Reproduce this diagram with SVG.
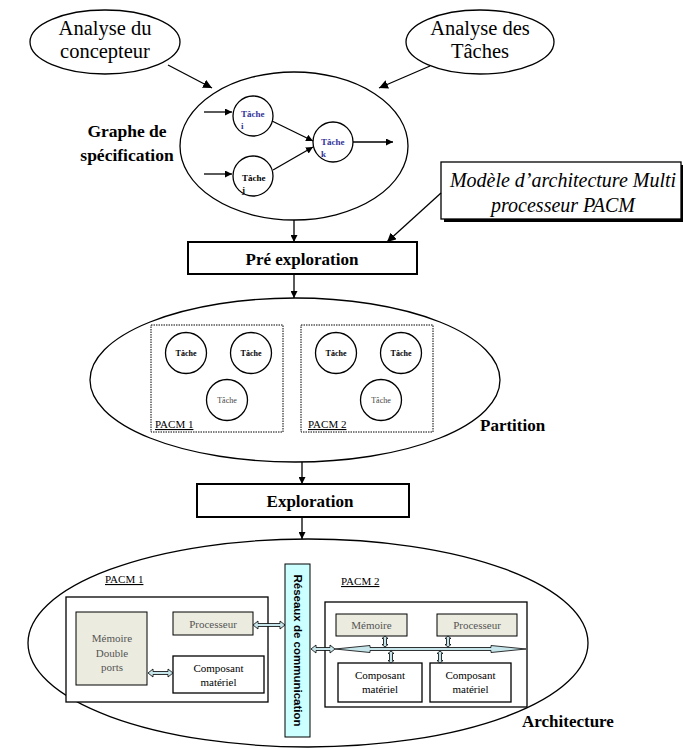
<svg xmlns="http://www.w3.org/2000/svg" width="683" height="749" viewBox="0 0 683 749" font-family="'Liberation Serif', 'Times New Roman', serif">
<defs>
<marker id="ah" viewBox="0 0 10 10" refX="10" refY="5" markerWidth="7" markerHeight="7" orient="auto" markerUnits="userSpaceOnUse">
<path d="M0,0 L10,5 L0,10 z" fill="#000"/>
</marker>
<marker id="ahs" viewBox="0 0 10 10" refX="10" refY="5" markerWidth="9" markerHeight="9" orient="auto" markerUnits="userSpaceOnUse">
<path d="M0,0 L10,5 L0,10 z" fill="#000"/>
</marker>
</defs>
<style>
.ln{fill:none;stroke:#000;stroke-width:1.3}
.el{fill:#fff;stroke:#000;stroke-width:1.3}
.t{font-family:'Liberation Serif','Times New Roman',serif;fill:#000}
.tb{font-family:'Liberation Serif','Times New Roman',serif;font-weight:bold;fill:#000}
.box{fill:#fff;stroke:#000;stroke-width:2}
.dash{fill:none;stroke:#000;stroke-width:1;stroke-dasharray:1.5,1}
.grey{fill:#ebebdf;stroke:#000;stroke-width:1}
.wb{fill:#fff;stroke:#000;stroke-width:1.3}
.da{fill:#c6e6ec;stroke:#000;stroke-width:0.8}
</style>

<g id="analyse-concepteur">
<ellipse class="el" cx="105" cy="42" rx="75" ry="32"/>
<text class="t" font-size="20.5" x="105" y="35" text-anchor="middle">Analyse du</text>
<text class="t" font-size="20.5" x="105" y="58" text-anchor="middle">concepteur</text>
</g>

<g id="analyse-taches">
<ellipse class="el" cx="480" cy="42" rx="74" ry="32"/>
<text class="t" font-size="20.5" x="480" y="35" text-anchor="middle">Analyse des</text>
<text class="t" font-size="20.5" x="480" y="58" text-anchor="middle">Tâches</text>
</g>

<g id="graphe-specification">
<ellipse class="el" cx="294" cy="146" rx="114" ry="74"/>
<text class="tb" font-size="17.5" x="127" y="137" text-anchor="middle">Graphe de</text>
<text class="tb" font-size="17.5" x="127" y="161" text-anchor="middle">spécification</text>
</g>

<g id="tache-i">
<circle class="el" cx="253" cy="116" r="20"/>
<text class="tb" font-size="9" x="241" y="117" style="fill:#333399">Tâche</text>
<text class="tb" font-size="9" x="241" y="129" style="fill:#333399">i</text>
</g>
<g id="tache-j">
<circle class="el" cx="253" cy="176" r="20"/>
<text class="tb" font-size="9" x="242" y="181">Tâche</text>
<text class="tb" font-size="9" x="242" y="193">j</text>
</g>
<g id="tache-k">
<circle class="el" cx="333" cy="142" r="20"/>
<text class="tb" font-size="9" x="321" y="145" style="fill:#333399">Tâche</text>
<text class="tb" font-size="9" x="321" y="157" style="fill:#333399">k</text>
</g>

<g id="modele-pacm">
<rect x="444" y="165" width="240" height="57" fill="#000"/>
<rect x="441" y="162" width="240" height="57" fill="#fff" stroke="#000" stroke-width="1.3"/>
<text class="t" font-size="20" font-style="italic" x="563" y="187" text-anchor="middle">Modèle d’architecture Multi</text>
<text class="t" font-size="20" font-style="italic" x="563" y="212" text-anchor="middle">processeur PACM</text>
</g>

<g id="pre-exploration">
<rect class="box" x="188" y="242" width="229" height="32"/>
<text class="tb" font-size="17" x="302" y="265" text-anchor="middle">Pré exploration</text>
</g>

<g id="partition">
<ellipse class="el" cx="295" cy="380" rx="205" ry="82"/>
<rect class="dash" x="151" y="325" width="132" height="107"/>
<rect class="dash" x="301" y="325" width="132" height="107"/>
<circle class="el" cx="186" cy="353" r="20.5"/>
<circle class="el" cx="251" cy="353" r="20.5"/>
<circle class="el" cx="227" cy="400" r="20.5"/>
<circle class="el" cx="336" cy="353" r="20.5"/>
<circle class="el" cx="401" cy="353" r="20.5"/>
<circle class="el" cx="381" cy="400" r="20.5"/>
<text class="tb" font-size="8" x="186" y="356" text-anchor="middle">Tâche</text>
<text class="tb" font-size="8" x="251" y="356" text-anchor="middle">Tâche</text>
<text class="t" font-size="8" x="227" y="403" text-anchor="middle" style="fill:#444">Tâche</text>
<text class="tb" font-size="8" x="336" y="356" text-anchor="middle">Tâche</text>
<text class="tb" font-size="8" x="401" y="356" text-anchor="middle">Tâche</text>
<text class="t" font-size="8" x="381" y="403" text-anchor="middle" style="fill:#444">Tâche</text>
<text class="t" font-size="11" x="155" y="428" text-decoration="underline">PACM 1</text>
<text class="t" font-size="11" x="308" y="428" text-decoration="underline">PACM 2</text>
<text class="tb" font-size="17" x="480" y="431">Partition</text>
</g>

<g id="exploration">
<rect class="box" x="197" y="484" width="212" height="33"/>
<text class="tb" font-size="17" x="310" y="507" text-anchor="middle">Exploration</text>
</g>

<g id="architecture">
<ellipse class="el" cx="308" cy="643" rx="280" ry="104"/>
<text class="tb" font-size="17" x="522" y="727">Architecture</text>
</g>

<g id="pacm1">
<text class="t" font-size="11" x="105" y="583" text-decoration="underline">PACM 1</text>
<rect class="wb" x="66" y="597" width="202" height="105"/>
<rect class="grey" x="76" y="612" width="71" height="73"/>
<text class="t" font-size="11" x="112" y="642" text-anchor="middle" style="fill:#555">Mémoire</text>
<text class="t" font-size="11" x="112" y="657" text-anchor="middle" style="fill:#555">Double</text>
<text class="t" font-size="11" x="112" y="671" text-anchor="middle" style="fill:#555">ports</text>
<rect class="grey" x="173" y="612" width="80" height="23"/>
<text class="t" font-size="11" x="213" y="628" text-anchor="middle" style="fill:#555">Processeur</text>
<rect class="wb" x="173" y="656" width="91" height="37"/>
<text class="t" font-size="11" x="218.5" y="672" text-anchor="middle">Composant</text>
<text class="t" font-size="11" x="218.5" y="686" text-anchor="middle">matériel</text>
<path class="da" d="M148,673 L153,669 L153,671.5 L168,671.5 L168,669 L173,673 L168,677 L168,674.5 L153,674.5 L153,677 Z"/>
<path class="da" d="M253,625 L258,621 L258,623.5 L280,623.5 L280,621 L285,625 L280,629 L280,626.5 L258,626.5 L258,629 Z"/>
</g>

<g id="reseaux">
<rect x="285" y="564" width="25" height="173" fill="#ccffff" stroke="#000" stroke-width="1"/>
<text font-family="'Liberation Sans', Arial, sans-serif" font-weight="bold" font-size="11.5" transform="translate(293.5,650.5) rotate(90)" text-anchor="middle" fill="#000">Réseaux de communication</text>
</g>

<g id="pacm2">
<text class="t" font-size="11" x="341" y="585" text-decoration="underline">PACM 2</text>
<rect class="wb" x="325" y="602" width="202" height="105"/>
<rect class="grey" x="336" y="614" width="71" height="22"/>
<text class="t" font-size="11" x="371.5" y="629" text-anchor="middle" style="fill:#555">Mémoire</text>
<rect class="grey" x="437" y="614" width="80" height="22"/>
<text class="t" font-size="11" x="477" y="629" text-anchor="middle" style="fill:#555">Processeur</text>
<rect class="wb" x="338" y="663" width="84" height="39"/>
<text class="t" font-size="11" x="380" y="679" text-anchor="middle">Composant</text>
<text class="t" font-size="11" x="380" y="693" text-anchor="middle">matériel</text>
<rect class="wb" x="430" y="663" width="81" height="39"/>
<text class="t" font-size="11" x="470.5" y="679" text-anchor="middle">Composant</text>
<text class="t" font-size="11" x="470.5" y="693" text-anchor="middle">matériel</text>
<path class="da" d="M311,649 L316,645 L316,647.5 L330,647.5 L330,645 L335,649 L330,653 L330,650.5 L316,650.5 L316,653 Z"/>
<path class="da" d="M335,649 L370,645.5 L370,647.5 L491,647.5 L491,645.5 L526,649 L491,652.5 L491,650.5 L370,650.5 L370,652.5 Z"/>
<path class="da" d="M385,636 L388,638.5 L386.5,638.5 L386.5,644.5 L388,644.5 L385,647 L382,644.5 L383.5,644.5 L383.5,638.5 L382,638.5 Z"/>
<path class="da" d="M448,636 L451,638.5 L449.5,638.5 L449.5,644.5 L451,644.5 L448,647 L445,644.5 L446.5,644.5 L446.5,638.5 L445,638.5 Z"/>
<path class="da" d="M391,651 L394,653.5 L392.5,653.5 L392.5,660.5 L394,660.5 L391,663 L388,660.5 L389.5,660.5 L389.5,653.5 L388,653.5 Z"/>
<path class="da" d="M440,651 L443,653.5 L441.5,653.5 L441.5,660.5 L443,660.5 L440,663 L437,660.5 L438.5,660.5 L438.5,653.5 L437,653.5 Z"/>
</g>

<g id="connectors">
<line class="ln" x1="168" y1="65" x2="212" y2="88" marker-end="url(#ahs)"/>
<line class="ln" x1="430" y1="66" x2="379" y2="88" marker-end="url(#ahs)"/>
<line class="ln" x1="204" y1="112" x2="232" y2="112" marker-end="url(#ah)"/>
<line class="ln" x1="204" y1="174" x2="232" y2="174" marker-end="url(#ah)"/>
<line class="ln" x1="272" y1="121" x2="313" y2="141" marker-end="url(#ah)"/>
<line class="ln" x1="273" y1="170" x2="313" y2="147" marker-end="url(#ah)"/>
<line class="ln" x1="353" y1="142" x2="393" y2="142" marker-end="url(#ah)"/>
<line class="ln" x1="294" y1="220" x2="294" y2="242" marker-end="url(#ah)"/>
<line class="ln" x1="441" y1="193" x2="387" y2="242" marker-end="url(#ahs)"/>
<line class="ln" x1="294" y1="275" x2="294" y2="298" marker-end="url(#ah)"/>
<line class="ln" x1="302" y1="462" x2="302" y2="484" marker-end="url(#ah)"/>
<line class="ln" x1="302" y1="518" x2="302" y2="539" marker-end="url(#ah)"/>
</g>
</svg>
